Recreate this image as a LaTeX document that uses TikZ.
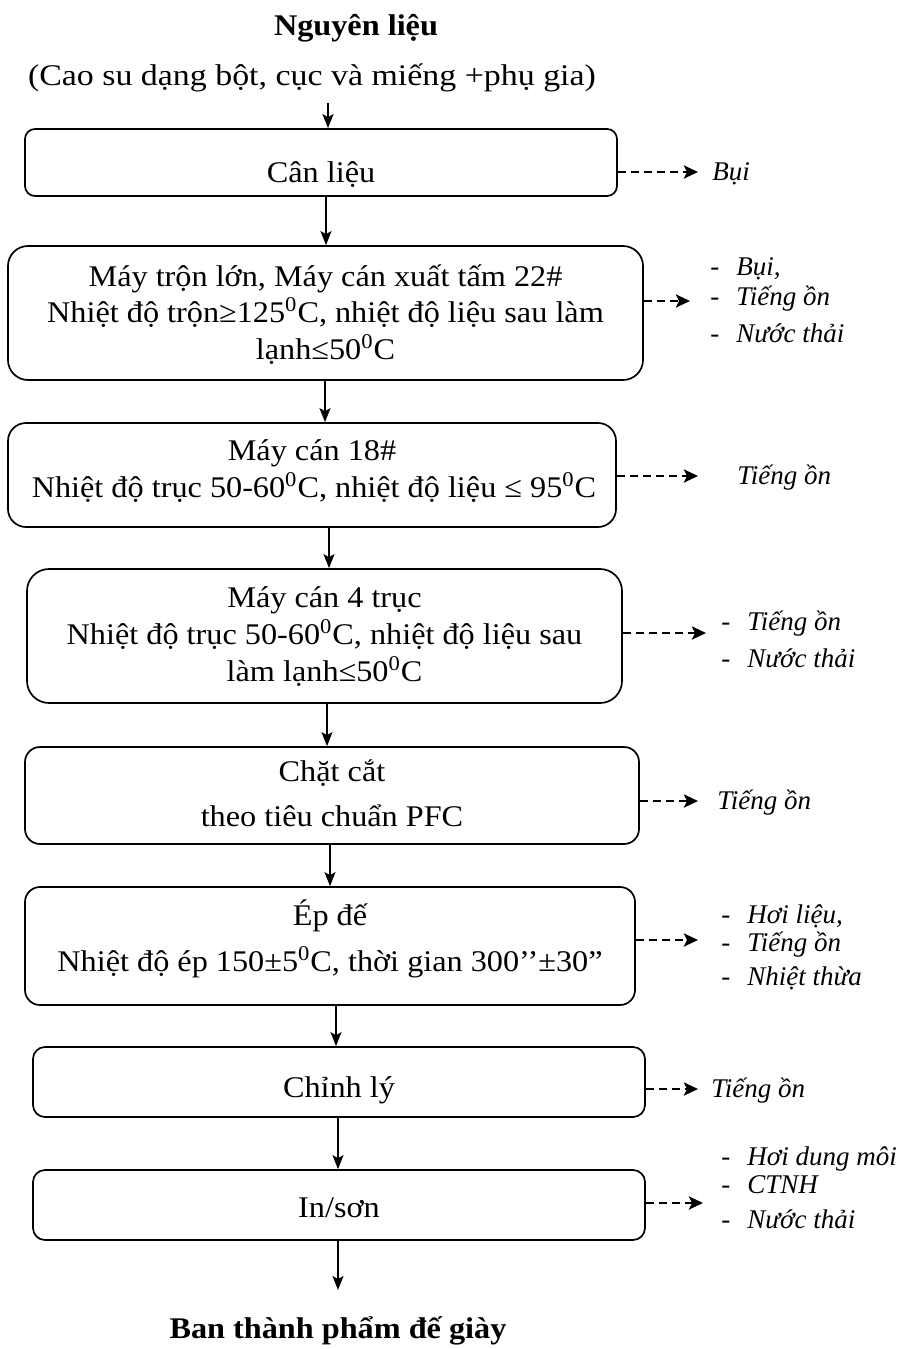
\documentclass[tikz,border=0pt]{standalone}
\usepackage{fontspec}
\setmainfont{Liberation Serif}
\newfontfamily\boxfont{Liberation Serif}[FakeStretch=1.075]
\newfontfamily\parfont{Liberation Serif}[FakeStretch=1.13]
\usetikzlibrary{arrows.meta}
\tikzset{
 txt/.style={inner sep=0, anchor=base, font=\boxfont\fontsize{15}{18}\selectfont},
 ttl/.style={inner sep=0, anchor=base, font=\boxfont\fontsize{15}{18}\selectfont\bfseries},
 lab/.style={inner sep=0, anchor=base west, font=\fontsize{13.5}{16}\selectfont\itshape},
 box/.style={draw, line width=0.85pt, inner sep=0},
 arr/.style={line width=0.9pt, -{Stealth[length=7pt,width=5.5pt,inset=1.5pt]}},
 darr/.style={line width=1.3pt, dash pattern=on 4pt off 2.5pt, -{Stealth[length=7pt,width=6.5pt,inset=1.5pt]}},
}
\newcommand{\li}[1]{\makebox[13pt][l]{\upshape -}#1}
\newcommand{\dg}{\textsuperscript{0}}
\begin{document}
\begin{tikzpicture}[x=0.5pt,y=-0.5pt]
\useasboundingbox (0,0) rectangle (896,1349);
% titles
\node[ttl] (tin) at (356,35) {Nguyên liệu};
\node[txt, font=\parfont\fontsize{15}{18}\selectfont] (tin2) at (312,85) {(Cao su dạng bột, cục và miếng +phụ gia)};
\node[ttl] (tout) at (338,1338) {Ban thành phẩm đế giày};
% boxes
\node[box, minimum width=296pt, minimum height=33.5pt, rounded corners=5pt] (b1) at (321,162.5) {};
\node[box, minimum width=317.5pt, minimum height=67pt, rounded corners=10pt] (b2) at (325.5,313) {};
\node[box, minimum width=304pt, minimum height=52pt, rounded corners=9pt] (b3) at (312,475) {};
\node[box, minimum width=297.5pt, minimum height=67pt, rounded corners=11pt] (b4) at (324.5,636) {};
\node[box, minimum width=307pt, minimum height=48.5pt, rounded corners=7.5pt] (b5) at (332,795.5) {};
\node[box, minimum width=305pt, minimum height=59pt, rounded corners=7.5pt] (b6) at (330,946) {};
\node[box, minimum width=306pt, minimum height=35pt, rounded corners=6pt] (b7) at (339,1082) {};
\node[box, minimum width=306pt, minimum height=35pt, rounded corners=6pt] (b8) at (339,1205) {};
% box texts
\node[txt] (t1) at (321,182) {Cân liệu};
\node[txt] (t2a) at (325.5,286) {Máy trộn lớn, Máy cán xuất tấm 22\#};
\node[txt] (t2b) at (325.5,322) {Nhiệt độ trộn≥125\dg C, nhiệt độ liệu sau làm};
\node[txt] (t2c) at (325.5,359) {lạnh≤50\dg C};
\node[txt] (t3a) at (312,460) {Máy cán 18\#};
\node[txt] (t3b) at (314,497) {Nhiệt độ trục 50-60\dg C, nhiệt độ liệu ≤ 95\dg C};
\node[txt] (t4a) at (324.5,607) {Máy cán 4 trục};
\node[txt] (t4b) at (324.5,644) {Nhiệt độ trục 50-60\dg C, nhiệt độ liệu sau};
\node[txt] (t4c) at (324.5,681) {làm lạnh≤50\dg C};
\node[txt] (t5a) at (332,781) {Chặt cắt};
\node[txt] (t5b) at (332,826) {theo tiêu chuẩn PFC};
\node[txt] (t6a) at (330,925) {Ép đế};
\node[txt] (t6b) at (330,971) {Nhiệt độ ép 150±5\dg C, thời gian 300’’±30”};
\node[txt] (t7) at (339,1097) {Chỉnh lý};
\node[txt] (t8) at (339,1217) {In/sơn};
% side labels
\node[lab] (l1) at (712,180) {Bụi};
\node[lab] (l2a) at (710,275) {\li{Bụi,}};
\node[lab] (l2b) at (710,305) {\li{Tiếng ồn}};
\node[lab] (l2c) at (710,342) {\li{Nước thải}};
\node[lab] (l3) at (737,484) {Tiếng ồn};
\node[lab] (l4a) at (721,630) {\li{Tiếng ồn}};
\node[lab] (l4b) at (721,667) {\li{Nước thải}};
\node[lab] (l5) at (717,809) {Tiếng ồn};
\node[lab] (l6a) at (721,923) {\li{Hơi liệu,}};
\node[lab] (l6b) at (721,951) {\li{Tiếng ồn}};
\node[lab] (l6c) at (721,985) {\li{Nhiệt thừa}};
\node[lab] (l7) at (711,1097) {Tiếng ồn};
\node[lab] (l8a) at (721,1165) {\li{Hơi dung môi}};
\node[lab] (l8b) at (721,1193) {\li{CTNH}};
\node[lab] (l8c) at (721,1228) {\li{Nước thải}};
% solid arrows
\coordinate (c0) at (328,103);
\coordinate (x1) at (326,0);
\coordinate (x2) at (325,0);
\coordinate (x3) at (329,0);
\coordinate (x4) at (327,0);
\coordinate (x5) at (330,0);
\coordinate (x6) at (336,0);
\coordinate (x7) at (338,0);
\coordinate (c9) at (338,1290);
\draw[arr] (c0) -- (b1.north -| c0);
\draw[arr] (b1.south -| x1) -- (b2.north -| x1);
\draw[arr] (b2.south -| x2) -- (b3.north -| x2);
\draw[arr] (b3.south -| x3) -- (b4.north -| x3);
\draw[arr] (b4.south -| x4) -- (b5.north -| x4);
\draw[arr] (b5.south -| x5) -- (b6.north -| x5);
\draw[arr] (b6.south -| x6) -- (b7.north -| x6);
\draw[arr] (b7.south -| x7) -- (b8.north -| x7);
\draw[arr] (b8.south -| c9) -- (c9);
% dashed arrows
\coordinate (d1) at (698,172);
\coordinate (d2) at (690,301);
\coordinate (d3) at (698,476);
\coordinate (d4) at (706,633);
\coordinate (d5) at (698,801);
\coordinate (d6) at (698,940);
\coordinate (d7) at (698,1089);
\coordinate (d8) at (703,1203);
\draw[darr] (b1.east |- d1) -- (d1);
\draw[darr] (b2.east |- d2) -- (d2);
\draw[darr] (b3.east |- d3) -- (d3);
\draw[darr] (b4.east |- d4) -- (d4);
\draw[darr] (b5.east |- d5) -- (d5);
\draw[darr] (b6.east |- d6) -- (d6);
\draw[darr] (b7.east |- d7) -- (d7);
\draw[darr] (b8.east |- d8) -- (d8);
\end{tikzpicture}
\end{document}
